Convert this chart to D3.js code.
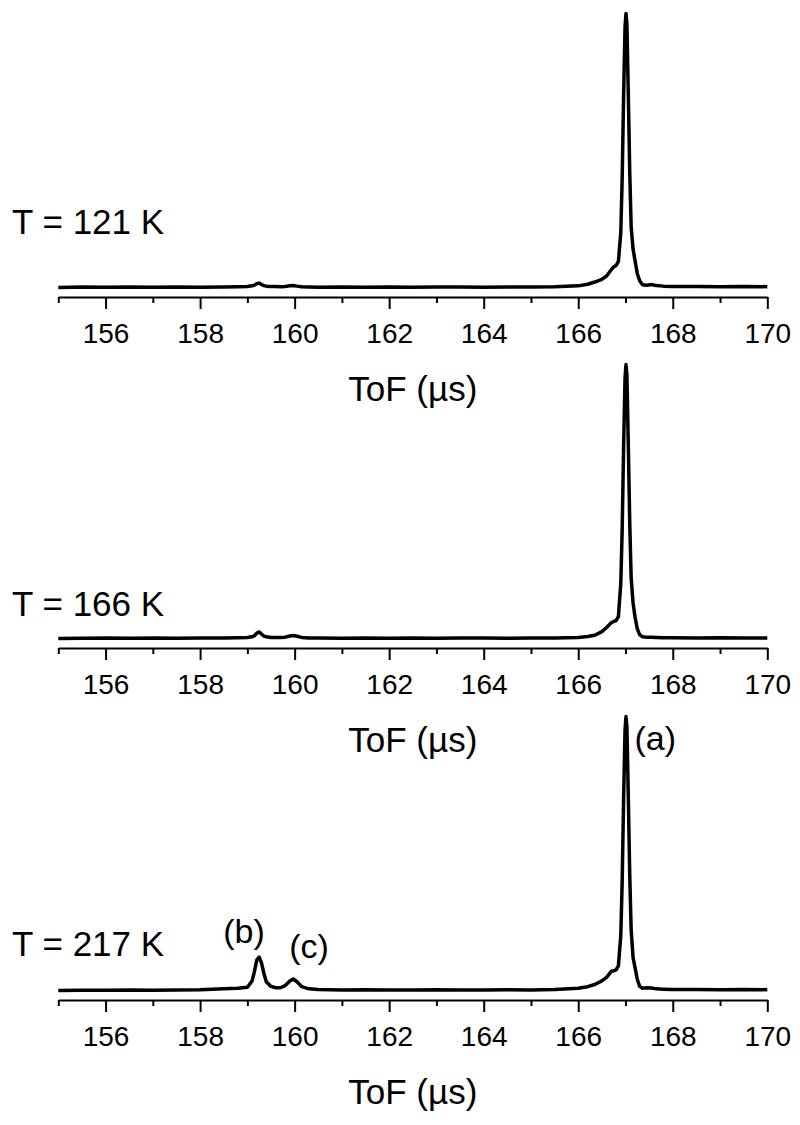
<!DOCTYPE html>
<html>
<head>
<meta charset="utf-8">
<script src="https://cdn.jsdelivr.net/npm/d3@7"></script>
<style>
  body { margin: 0; background: #ffffff; }
  text { font-family: "Liberation Sans", Arial, sans-serif; fill: #000; }
</style>
</head>
<body>
<div id="tof_chart"></div>
<script>
// data (intensity normalised to main peak = 1)
const tof = [155.0, 155.5, 156.0, 156.5, 157.0, 157.5, 158.0, 158.5, 158.8, 159.0,
    159.1, 159.15, 159.2, 159.25, 159.3, 159.35, 159.4, 159.5, 159.6, 159.7,
    159.8, 159.9, 159.97, 160.05, 160.15, 160.3, 160.5, 161.0, 161.5, 162.0,
    162.5, 163.0, 163.5, 164.0, 164.5, 165.0, 165.5, 166.0, 166.2, 166.35,
    166.5, 166.6, 166.7, 166.75, 166.8, 166.85, 166.9, 166.93, 166.96, 166.99,
    167.01, 167.03, 167.06, 167.09, 167.12, 167.16, 167.2, 167.25, 167.3, 167.36,
    167.45, 167.55, 167.65, 167.8, 168.0, 168.5, 169.0, 169.5, 170.0];

const int_121 = [0.000, 0.002, 0.001, 0.002, 0.001, 0.002, 0.001, 0.002, 0.003, 0.004,
    0.006, 0.009, 0.014, 0.016, 0.011, 0.007, 0.005, 0.004, 0.004, 0.003,
    0.004, 0.006, 0.007, 0.005, 0.003, 0.002, 0.001, 0.002, 0.001, 0.002,
    0.001, 0.002, 0.002, 0.001, 0.002, 0.002, 0.003, 0.006, 0.012, 0.020,
    0.030, 0.042, 0.065, 0.075, 0.080, 0.095, 0.200, 0.400, 0.700, 0.950,
    1.000, 0.960, 0.700, 0.420, 0.220, 0.140, 0.100, 0.050, 0.025, 0.010,
    0.008, 0.011, 0.007, 0.005, 0.004, 0.004, 0.003, 0.004, 0.003];

const int_166 = [0.000, 0.001, 0.002, 0.001, 0.002, 0.001, 0.002, 0.002, 0.003, 0.004,
    0.006, 0.010, 0.020, 0.024, 0.016, 0.009, 0.006, 0.004, 0.004, 0.004,
    0.005, 0.009, 0.011, 0.008, 0.004, 0.002, 0.002, 0.001, 0.002, 0.001,
    0.002, 0.001, 0.002, 0.002, 0.001, 0.002, 0.002, 0.004, 0.007, 0.012,
    0.025, 0.040, 0.058, 0.062, 0.065, 0.080, 0.200, 0.400, 0.700, 0.950,
    1.000, 0.960, 0.700, 0.420, 0.220, 0.130, 0.080, 0.035, 0.014, 0.006,
    0.005, 0.005, 0.004, 0.003, 0.003, 0.002, 0.003, 0.002, 0.002];

const int_217 = [0.000, 0.001, 0.001, 0.002, 0.001, 0.002, 0.003, 0.006, 0.008, 0.012,
    0.035, 0.070, 0.112, 0.122, 0.100, 0.062, 0.032, 0.015, 0.010, 0.010,
    0.018, 0.035, 0.042, 0.032, 0.014, 0.006, 0.004, 0.002, 0.003, 0.002,
    0.002, 0.003, 0.002, 0.002, 0.003, 0.002, 0.004, 0.008, 0.014, 0.022,
    0.035, 0.048, 0.070, 0.072, 0.075, 0.090, 0.200, 0.400, 0.700, 0.950,
    1.000, 0.960, 0.700, 0.420, 0.220, 0.120, 0.085, 0.040, 0.015, 0.008,
    0.010, 0.009, 0.006, 0.005, 0.004, 0.004, 0.003, 0.004, 0.003];

const panelLabels = ["T = 121 K", "T = 166 K", "T = 217 K"];
const panelSeries = [int_121, int_166, int_217];
const majorTicks = [156, 158, 160, 162, 164, 166, 168, 170];
const minorTicks = [155, 157, 159, 161, 163, 165, 167, 169];
const peakNames = ["(a)", "(b)", "(c)"];
const peakTof = [167.0, 159.25, 159.97];

// set the dimensions of the picture
const width = 800,
    height = 1125;

// baseline pixel of each panel, peak height in pixels
const panelBase = [287.5, 638.5, 990.5];
const panelLabelY = [234, 616, 956];
const peakPx = 274;

const svg = d3.select("#tof_chart")
    .append("svg")
    .attr("width", width)
    .attr("height", height);

const x = d3.scaleLinear()
    .domain([155, 170])
    .range([58.3, 767.3]);

panelSeries.forEach((series, i) => {
    const base = panelBase[i];
    const axisY = base + 9.5;

    const y = d3.scaleLinear()
        .domain([0, 1])
        .range([base, base - peakPx]);

    const g = svg.append("g");

    // minor ticks first, then major ticks with labels
    g.append("g")
        .attr("transform", `translate(0, ${axisY})`)
        .call(d3.axisBottom(x).tickValues(minorTicks).tickSize(6).tickSizeOuter(0).tickFormat(""))
        .call(a => a.select(".domain").remove())
        .selectAll("line")
        .attr("stroke", "#000")
        .attr("stroke-width", 2);

    const major = g.append("g")
        .attr("transform", `translate(0, ${axisY})`)
        .call(d3.axisBottom(x).tickValues(majorTicks).tickSize(12).tickSizeOuter(0).tickPadding(14).tickFormat(d3.format("d")));

    major.select(".domain")
        .attr("stroke", "#000")
        .attr("stroke-width", 2);
    major.selectAll("line")
        .attr("stroke", "#000")
        .attr("stroke-width", 2);
    major.selectAll("text")
        .style("font-size", "28px")
        .style("font-family", "'Liberation Sans', Arial, sans-serif");

    // the spectrum
    const line = d3.line()
        .x((d, k) => x(tof[k]))
        .y(d => y(d));

    g.append("path")
        .datum(series)
        .attr("d", line)
        .attr("fill", "none")
        .attr("stroke", "#000")
        .attr("stroke-width", 3.5)
        .attr("stroke-linejoin", "round");

    // labels
    g.append("text")
        .attr("x", x(162.5))
        .attr("y", axisY + 104)
        .attr("text-anchor", "middle")
        .style("font-size", "35px")
        .text("ToF (µs)");

    g.append("text")
        .attr("x", 12)
        .attr("y", panelLabelY[i])
        .style("font-size", "35px")
        .text(panelLabels[i]);

    // peak names on the warmest panel
    if (i === 2) {
        const offs = [[9, 750], [-36, 943], [-4, 958]];
        peakNames.forEach((name, k) => {
            g.append("text")
                .attr("x", x(peakTof[k]) + offs[k][0])
                .attr("y", offs[k][1])
                .style("font-size", "34px")
                .text(name);
        });
    }
});
</script>
</body>
</html>
